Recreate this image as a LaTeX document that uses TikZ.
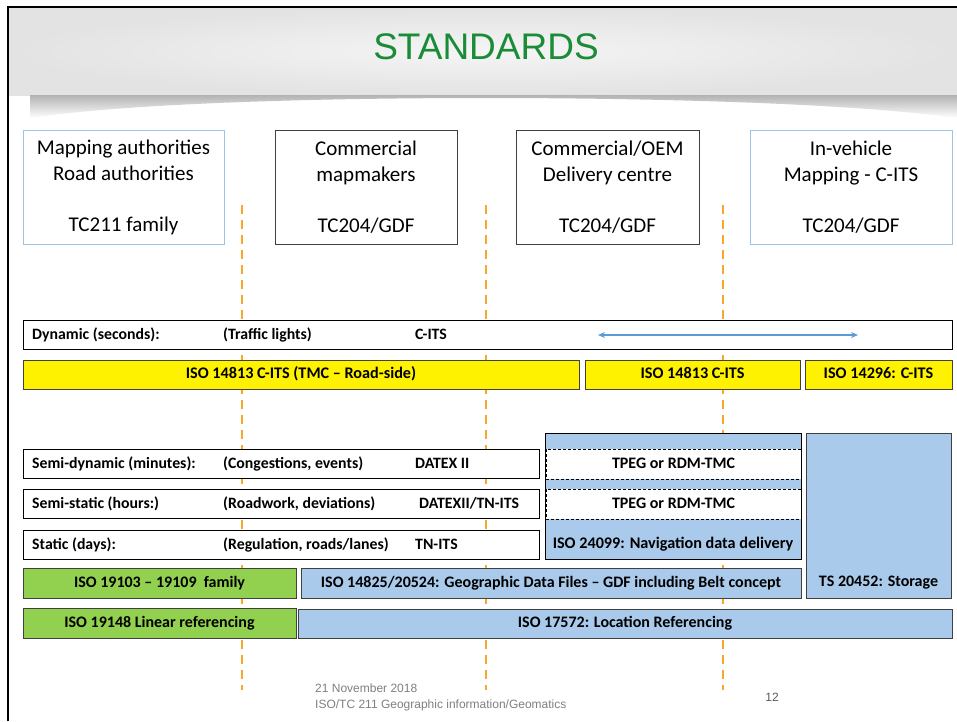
\documentclass[tikz,border=0pt]{standalone}
\usepackage{fontspec}
\setmainfont{Carlito}
\newfontfamily\arialfont{Liberation Sans}
\usetikzlibrary{arrows.meta}
\definecolor{titlegreen}{RGB}{26,140,56}
\definecolor{dashorange}{RGB}{247,168,40}
\definecolor{lblue}{RGB}{157,195,230}
\definecolor{fillblue}{RGB}{170,202,236}
\definecolor{fillgreen}{RGB}{146,208,80}
\definecolor{arrowblue}{RGB}{91,155,213}
\definecolor{boxgray}{RGB}{64,64,64}
\definecolor{footgray}{RGB}{128,128,128}
\begin{document}
\begin{tikzpicture}[x=1pt,y=-1pt,
  even/.style={text height=11.5pt, text depth=3.5pt},
  topbox/.style={draw=#1, line width=1pt, fill=white, minimum height=114pt, align=center,
     font=\fontsize{21}{26}\selectfont, inner sep=0pt},
  rowbox/.style={draw=black, line width=0.8pt, fill=white, minimum height=29pt, inner sep=0pt},
  yelbox/.style={draw=boxgray, line width=0.8pt, fill=yellow, minimum height=29pt, inner sep=0pt, even,
     font=\bfseries\fontsize{16.2}{18}\selectfont},
  greenbox/.style={draw=boxgray, line width=0.8pt, fill=fillgreen, minimum height=30pt, inner sep=0pt, even,
     font=\bfseries\fontsize{16}{18}\selectfont},
  bluebox/.style={draw=boxgray, line width=0.8pt, fill=fillblue, inner sep=0pt, even,
     font=\bfseries\fontsize{16}{18}\selectfont},
  dashbox/.style={draw=black, densely dashed, line width=0.6pt, fill=white, minimum height=30pt, inner sep=0pt, even,
     font=\bfseries\fontsize{16}{18}\selectfont},
  rowlabel/.style={anchor=west, inner sep=0pt, even, font=\bfseries\fontsize{15.8}{18}\selectfont},
  guide/.style={draw=dashorange, line width=2.6pt, dash pattern=on 9pt off 6pt},
  foot/.style={anchor=west, inner sep=0pt, text=footgray, font=\arialfont\fontsize{12}{14}\selectfont}
]
\useasboundingbox (0,0) rectangle (957,721);
\fill[white] (0,0) rectangle (957,721);

% header
\shade[inner color=black!4, outer color=black!11] (9,8) rectangle (957,95);
\shade[top color=black!30, bottom color=white]
  (30,95) -- (957,95) -- (957,118) .. controls (850,103) and (650,98) .. (486,98)
  .. controls (320,98) and (130,103) .. (30,118) -- cycle;
\draw[line width=2.5pt] (8,721) -- (8,7) -- (957,7);
\node (title) at (486,47) {\arialfont\fontsize{37}{40}\selectfont\color{titlegreen}STANDARDS};

% orange guide lines
\coordinate (g1t) at (242,205); \coordinate (g1b) at (242,690);
\coordinate (g2t) at (486,205); \coordinate (g2b) at (486,690);
\coordinate (g3t) at (723,205); \coordinate (g3b) at (723,690);
\draw[guide] (g1t) -- (g1b);
\draw[guide] (g2t) -- (g2b);
\draw[guide] (g3t) -- (g3b);

% top boxes
\node (b1) [topbox=lblue, minimum width=201pt] at (123.5,187) {Mapping authorities\\Road authorities\\[25pt]TC211 family};
\node (b2) [topbox=boxgray, minimum width=182pt] at (366,187) {Commercial\\mapmakers\\[25pt]TC204/GDF};
\node (b3) [topbox=boxgray, minimum width=183pt] at (607.5,187) {Commercial/OEM\\Delivery centre\\[25pt]TC204/GDF};
\node (b4) [topbox=lblue, minimum width=202pt] at (851,187) {In-vehicle\\Mapping - C-ITS\\[25pt]TC204/GDF};

% dynamic row
\node (dyn) [rowbox, minimum width=929pt] at (487.5,334.5) {};
\node (dynA) [rowlabel] at (32,335) {Dynamic (seconds):};
\node (dynB) [rowlabel] at (223,335) {(Traffic lights)};
\node (dynC) [rowlabel] at (415,335) {C-ITS};
\coordinate (arL) at (598,335);
\coordinate (arR) at (858,335);
\draw[arrowblue, line width=1.3pt, {Stealth[length=7pt,width=6pt]}-{Stealth[length=7pt,width=6pt]}] (arL) -- (arR);

% yellow row
\node (y1) [yelbox, minimum width=556pt] at (301,374.5) {ISO 14813 C-ITS (TMC -- Road-side)};
\node (y2) [yelbox, minimum width=215pt] at (692.5,374.5) {ISO 14813 C-ITS};
\node (y3) [yelbox, minimum width=147pt] at (878.5,374.5) {ISO 14296: C-ITS};

% blue block (delivery)
\node (nav) [bluebox, draw=black, minimum width=256pt, minimum height=126pt] at (673,496) {};
\node (tpeg1) [dashbox, minimum width=255pt] at (673.5,464) {TPEG or RDM-TMC};
\node (tpeg2) [dashbox, minimum width=255pt] at (673.5,504) {TPEG or RDM-TMC};
\node (navtxt) [inner sep=0pt, even, font=\bfseries\fontsize{16.2}{18}\selectfont] at (673,544) {ISO 24099: Navigation data delivery};

% storage
\node (stor) [bluebox, minimum width=145pt, minimum height=165pt] at (878.5,515.5) {};
\node (stortxt) [inner sep=0pt, even, font=\bfseries\fontsize{16}{18}\selectfont] at (878.5,582) {TS 20452: Storage};

% semi rows
\node (sd) [rowbox, minimum width=516pt] at (281,463.5) {};
\node (sdA) [rowlabel] at (32,464) {Semi-dynamic (minutes):};
\node (sdB) [rowlabel] at (223,464) {(Congestions, events)};
\node (sdC) [rowlabel] at (415,464) {DATEX II};
\node (ss) [rowbox, minimum width=516pt] at (281,503.5) {};
\node (ssA) [rowlabel] at (32,504) {Semi-static (hours:)};
\node (ssB) [rowlabel] at (223,504) {(Roadwork, deviations)};
\node (ssC) [rowlabel] at (419,504) {DATEXII/TN-ITS};
\node (st) [rowbox, minimum width=516pt] at (281,544.5) {};
\node (stA) [rowlabel] at (32,545) {Static (days):};
\node (stB) [rowlabel] at (223,545) {(Regulation, roads/lanes)};
\node (stC) [rowlabel] at (415,545) {TN-ITS};

% bottom rows
\node (gr1) [greenbox, minimum width=273pt] at (159.5,583) {ISO 19103 -- 19109\ \ family};
\node (bl1) [bluebox, minimum width=500pt, minimum height=30pt] at (551,583) {ISO 14825/20524: Geographic Data Files -- GDF including Belt concept};
\node (gr2) [greenbox, minimum width=273pt] at (159.5,623.5) {ISO 19148 Linear referencing};
\node (bl2) [bluebox, minimum width=654pt, minimum height=29pt] at (625,623.5) {ISO 17572: Location Referencing};

% footer
\node (f1) [foot] at (315,688) {21 November 2018};
\node (f2) [foot] at (315,705) {ISO/TC 211 Geographic information/Geomatics};
\node (f3) [inner sep=0pt, text=footgray!70!black, font=\arialfont\fontsize{12}{14}\selectfont] at (772,697) {12};
\end{tikzpicture}
\end{document}
